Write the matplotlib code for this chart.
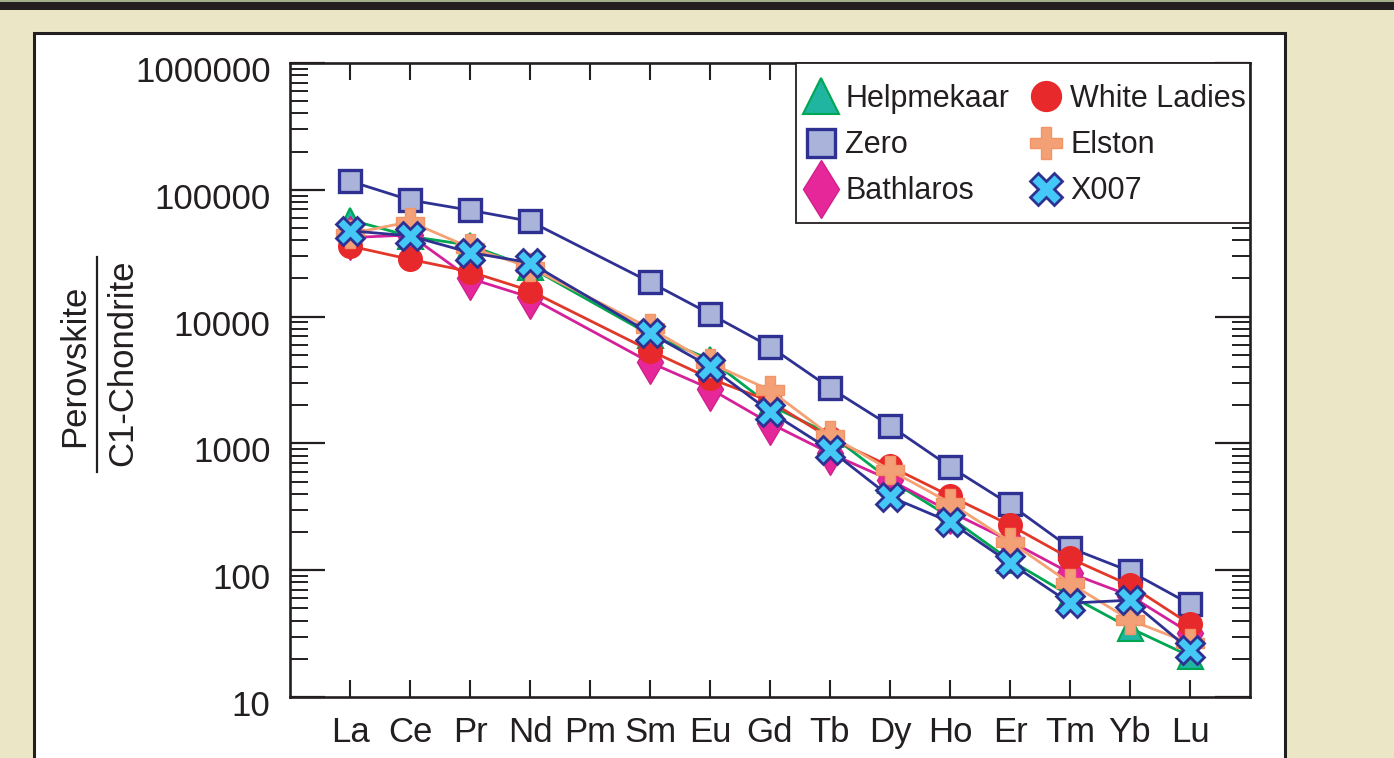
import matplotlib
matplotlib.use("Agg")
import matplotlib.pyplot as plt
import matplotlib.transforms as mtransforms
from matplotlib.lines import Line2D
from matplotlib.patches import Rectangle
from matplotlib.ticker import LogLocator, NullFormatter, FixedLocator
import numpy as np

plt.rcParams["font.family"] = ["Liberation Sans", "DejaVu Sans"]

# REE labels on the axis; Pm has no data
ree_labels = ["La", "Ce", "Pr", "Nd", "Pm", "Sm", "Eu", "Gd", "Tb", "Dy", "Ho", "Er", "Tm", "Yb", "Lu"]
elements = ["La", "Ce", "Pr", "Nd", "Sm", "Eu", "Gd", "Tb", "Dy", "Ho", "Er", "Tm", "Yb", "Lu"]

# chondrite normalised perovskite values
helpmekaar = [58000, 43000, 36500, 24500, 7200, 4600, 2000, 1180, 515, 262, 120, 63, 35, 21]
zero = [117000, 83000, 69000, 56500, 18700, 10500, 5800, 2740, 1380, 655, 330, 150, 98, 54]
bathlaros = [42000, 44000, 20000, 14200, 4350, 2700, 1440, 835, 515, 290, 170, 95, 63, 32]
white_ladies = [36000, 28300, 22600, 16000, 5400, 3250, 2150, 1100, 660, 385, 227, 124, 76, 37.5]
elston = [45000, 56000, 35000, 24500, 8100, 4300, 2630, 1160, 615, 340, 168, 79, 40.5, 26.5]
x007 = [47500, 43300, 32000, 26600, 7400, 4030, 1780, 890, 380, 240, 114, 55, 58, 23.5]

xpos = [ree_labels.index(e) for e in elements]

fig = plt.figure(figsize=(13.94, 7.58), dpi=100)
fig.patch.set_facecolor("#ebe7c6")

# frame decoration: top band and white panel
fig.add_artist(Rectangle((0, 1 - 2 / 758), 1, 2 / 758, transform=fig.transFigure,
                         facecolor="#a3b08c", edgecolor="none", zorder=-10))
fig.add_artist(Rectangle((0, 1 - 10 / 758), 1, 8 / 758, transform=fig.transFigure,
                         facecolor="#231f20", edgecolor="none", zorder=-10))
fig.add_artist(Rectangle((34 / 1394, -0.05), (1285 - 34) / 1394, (758 - 33) / 758 + 0.05,
                         transform=fig.transFigure, facecolor="white",
                         edgecolor="#231f20", linewidth=2.2, zorder=-10))

ax = fig.add_axes([290 / 1394, 1 - 697 / 758, (1250 - 290) / 1394, (697 - 63) / 758])
ax.set_zorder(5)

series = [
    # name, data, line colour, marker, face, edge, size, legend size, mew, z
    ("Helpmekaar", helpmekaar, "#00a651", "^", "#1fb5a0", "#00a651", 18, 26, 1.5, 3),
    ("Bathlaros", bathlaros, "#d4219a", "d", "#e6279a", "#d1208c", 22, 30, 1.0, 4),
    ("Zero", zero, "#2e3192", "s", "#aab4da", "#2e3192", 16, 19.5, 2.4, 5),
    ("White Ladies", white_ladies, "#e2382a", "o", "#e8292b", "#e8292b", 17, 21.5, 1.0, 6),
    ("Elston", elston, "#f5a173", "P", "#f4a077", "#f29466", 20, 23, 1.0, 7),
    ("X007", x007, "#2e3192", "X", "#44c8f5", "#2e3192", 20, 23, 2.0, 8),
]

handles = {}
for name, vals, lc, mk, fc, ec, ms, lms, mew, z in series:
    ax.plot(xpos, vals, color=lc, lw=2.0, zorder=z)
    ax.plot(xpos, vals, ls="none", marker=mk, ms=ms, mfc=fc, mec=ec, mew=mew, zorder=z + 0.5)
    handles[name] = Line2D([], [], ls="none", marker=mk, ms=lms, mfc=fc, mec=ec, mew=mew)

ax.set_yscale("log")
ax.set_ylim(10, 1e6)
ax.set_xlim(-1, 15)

ax.xaxis.set_major_locator(FixedLocator(range(len(ree_labels))))
ax.set_xticklabels(ree_labels, fontsize=25, color="#231f20")
ax.yaxis.set_major_locator(FixedLocator([10, 100, 1000, 10000, 100000, 1000000]))
ax.set_yticklabels(["10", "100", "1000", "10000", "100000", "1000000"], fontsize=25, color="#231f20")
ax.yaxis.set_minor_locator(LogLocator(base=10, subs=np.arange(2, 10), numticks=20))
ax.yaxis.set_minor_formatter(NullFormatter())

ax.tick_params(axis="x", direction="in", top=True, bottom=True, length=12, width=1.5,
               pad=14, color="#231f20")
ax.tick_params(axis="y", which="major", direction="in", left=True, right=True, length=25,
               width=1.6, pad=14, color="#231f20")
ax.tick_params(axis="y", which="minor", direction="in", left=True, right=True, length=13,
               width=1.4, color="#231f20")

offset = mtransforms.ScaledTranslation(0, -6 / 100, fig.dpi_scale_trans)
for lbl in ax.get_yticklabels():
    lbl.set_transform(lbl.get_transform() + offset)

for sp in ax.spines.values():
    sp.set_linewidth(1.9)
    sp.set_color("#231f20")

# y label as a fraction
fig.text(75 / 1394, 1 - 366 / 758, "Perovskite", rotation=90, fontsize=25,
         ha="center", va="center", color="#231f20")
fig.text(123 / 1394, 1 - 363 / 758, "C1-Chondrite", rotation=90, fontsize=25,
         ha="center", va="center", color="#231f20")
fig.add_artist(Line2D([97 / 1394, 97 / 1394], [1 - 257 / 758, 1 - 472 / 758],
                      transform=fig.transFigure, color="#231f20", lw=1.6))

# legend box drawn separately so the padding matches the original
ax.add_patch(Rectangle(((796 - 290) / 960, (697 - 223) / 634), (1250 - 796) / 960, 160 / 634,
                       transform=ax.transAxes, facecolor="white", edgecolor="#231f20",
                       linewidth=1.3, zorder=19, clip_on=False))
order = ["Helpmekaar", "Zero", "Bathlaros", "White Ladies", "Elston", "X007"]
leg = ax.legend([handles[n] for n in order], order, ncol=2, loc="upper left",
                bbox_to_anchor=((812 - 290) / 960, (697 - 84) / 634), borderaxespad=0,
                borderpad=0, fontsize=22, frameon=False, handlelength=0.6,
                handletextpad=0.48, columnspacing=0.92, labelspacing=0.53)
for t in leg.get_texts():
    t.set_color("#231f20")
leg.set_zorder(20)

fig.savefig("out.png", dpi=100, facecolor=fig.get_facecolor())
